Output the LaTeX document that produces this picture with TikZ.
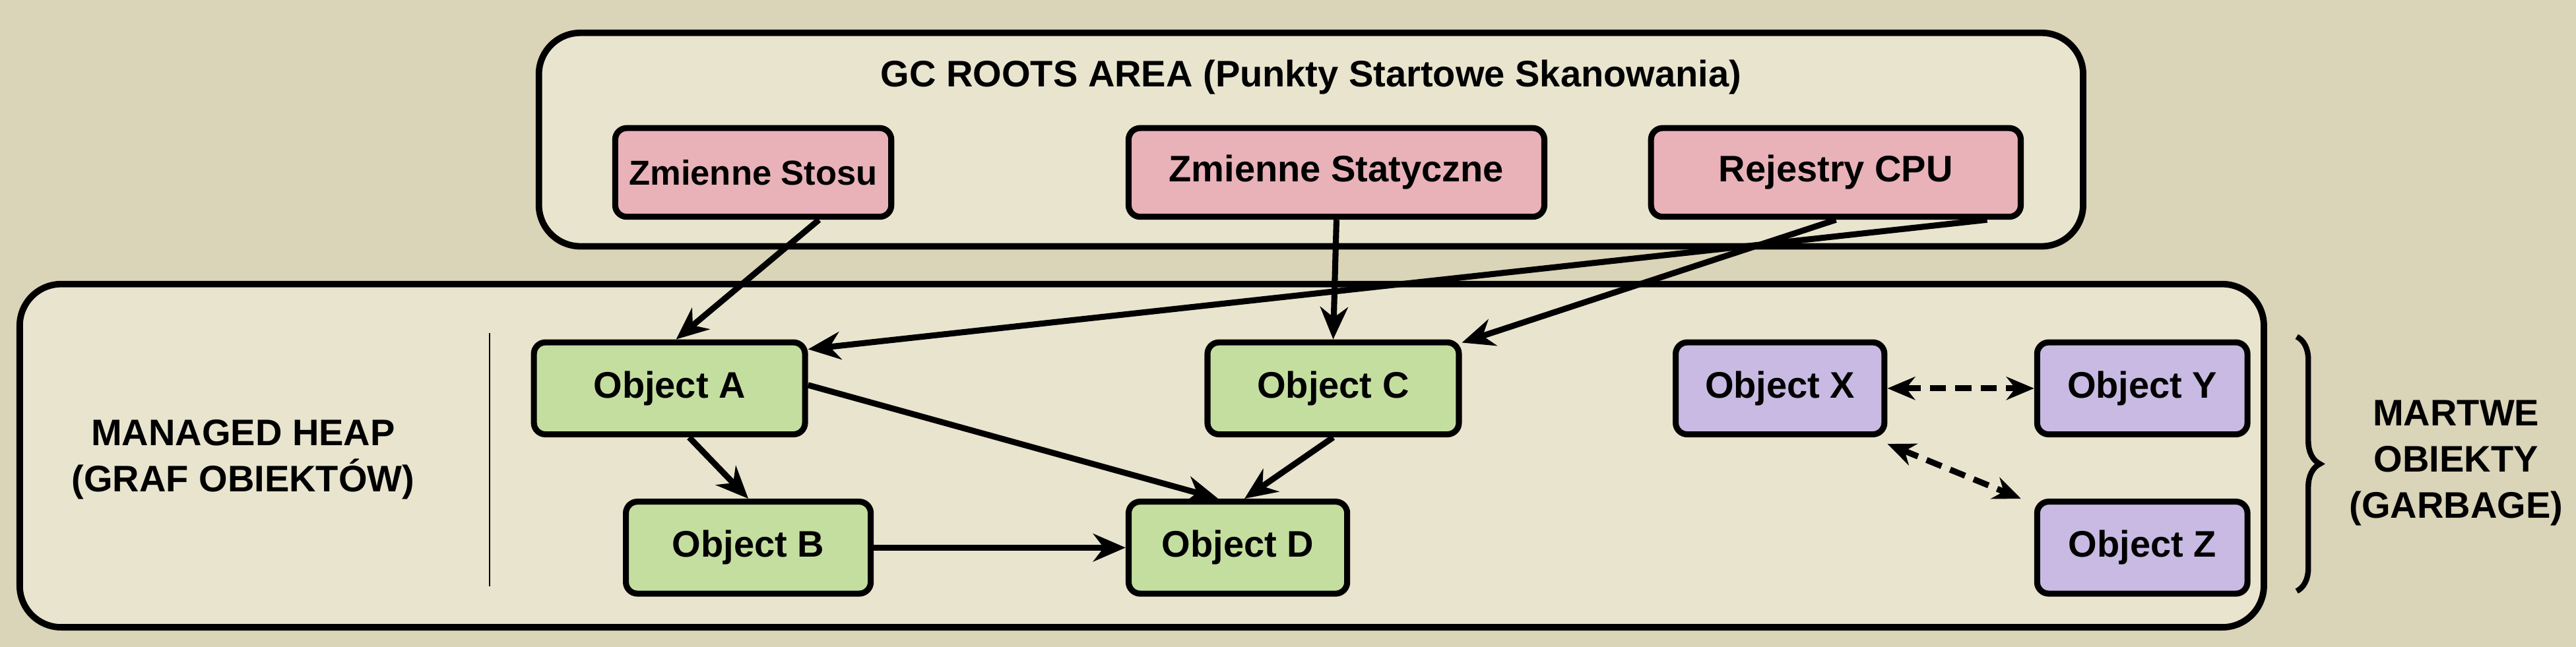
\documentclass[tikz,border=0pt]{standalone}
\usepackage{fontspec}
\setmainfont{Liberation Sans}
\usetikzlibrary{arrows.meta,decorations.pathreplacing}
\definecolor{bg}{RGB}{218,212,184}
\definecolor{area}{RGB}{232,228,206}
\definecolor{pinkc}{RGB}{232,178,184}
\definecolor{greenc}{RGB}{196,222,160}
\definecolor{purplec}{RGB}{200,186,226}
\begin{document}
\begin{tikzpicture}[x=0.025cm,y=-0.025cm,
  box/.style={draw=black,line width=2.6pt,rounded corners=5pt,minimum height=1.4cm,font=\fontsize{16}{19}\selectfont\bfseries,inner sep=0pt},
  root/.style={box,fill=pinkc,minimum height=1.35cm},
  obj/.style={box,fill=greenc},
  dead/.style={box,fill=purplec},
  area/.style={draw=black,line width=2.8pt,rounded corners=18pt,fill=area},
  arr/.style={line width=2.6pt,-{Stealth[length=14pt,width=12pt]}},
  darr/.style={line width=2.6pt,dashed,dash pattern=on 7pt off 4pt,{Stealth[length=12pt,width=10pt]}-{Stealth[length=12pt,width=10pt]}},
  lbl/.style={font=\fontsize{16}{20}\selectfont\bfseries,align=center}]
\fill[bg] (0,0) rectangle (1568,394);
\useasboundingbox (0,0) rectangle (1568,394);
\draw[area] (328,20) rectangle (1268,150);
\draw[area] (12,173) rectangle (1378,382);
\node[lbl] (title) at (798,47) {GC ROOTS AREA (Punkty Startowe Skanowania)};
\node[root,minimum width=4.2cm,font=\fontsize{15}{18}\selectfont\bfseries] (S) at (458.5,105) {Zmienne Stosu};
\node[root,minimum width=6.325cm] (T) at (813.5,105) {Zmienne Statyczne};
\node[root,minimum width=5.625cm] (R) at (1117.5,105) {Rejestry CPU};
\node[lbl] (heap) at (148,280) {MANAGED HEAP\\(GRAF OBIEKTÓW)};
\draw[line width=0.8pt] (298,203) coordinate (l1) -- (298,357) coordinate (l2);
\node[obj,minimum width=4.125cm] (A) at (407.5,236.5) {Object A};
\node[obj,minimum width=3.825cm] (C) at (811.5,236.5) {Object C};
\node[obj,minimum width=3.725cm] (B) at (455.5,333.5) {Object B};
\node[obj,minimum width=3.325cm] (D) at (753.5,333.5) {Object D};
\node[dead,minimum width=3.175cm] (X) at (1083.5,236.5) {Object X};
\node[dead,minimum width=3.2cm] (Y) at (1304,236.5) {Object Y};
\node[dead,minimum width=3.2cm] (Z) at (1304,333.5) {Object Z};
\draw[arr] ([xshift=1.0cm]S.south) -- ([xshift=0.1cm]A.north);
\draw[arr] (T.south) -- (C.north);
\draw[arr] ([xshift=2.3cm]R.south) -- ([yshift=-0.15cm]A.north east);
\draw[arr] (R.south) -- ([yshift=-0.05cm]C.north east);
\draw[arr] ([xshift=0.3cm]A.south) -- ([xshift=0cm]B.north);
\draw[arr] ([yshift=0.05cm]A.east) -- ([xshift=-0.3cm]D.north);
\draw[arr] (C.south) -- ([xshift=0.1cm]D.north);
\draw[arr] (B.east) -- (D.west);
\draw[darr] (X.east) -- (Y.west);
\draw[darr] ([yshift=-0.1cm]X.south east) -- ([xshift=-0.2cm]Z.north west);
\draw[line width=2.4pt,decorate,decoration={brace,amplitude=10pt}] (1398,205) coordinate (b1) -- (1398,360) coordinate (b2);
\node[lbl] (garb) at (1495,282) {MARTWE\\OBIEKTY\\(GARBAGE)};
\end{tikzpicture}
\end{document}
